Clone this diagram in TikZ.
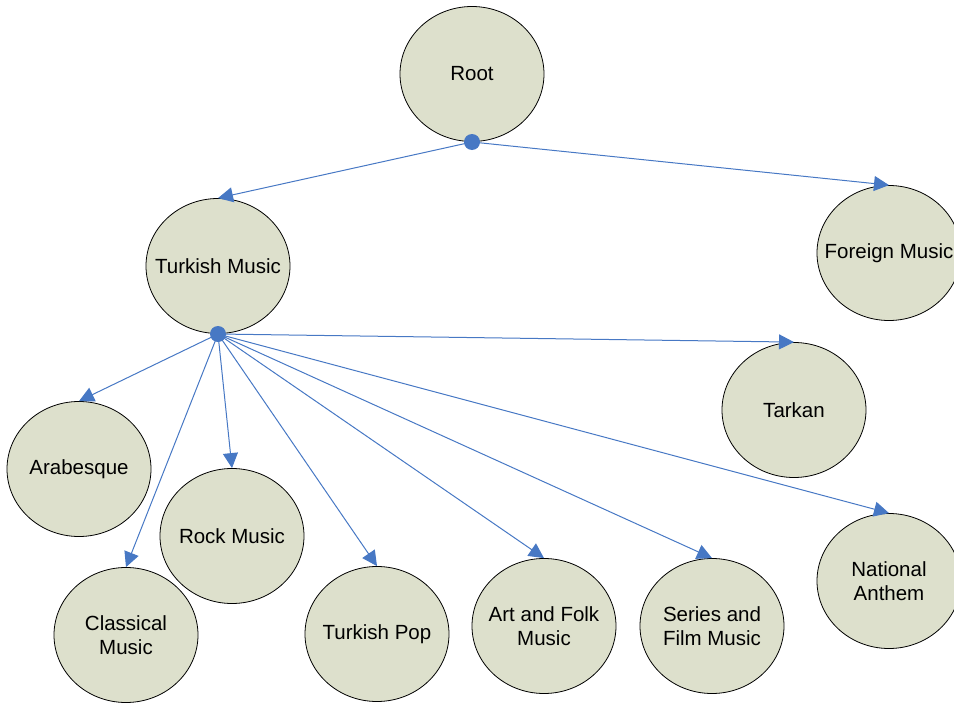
\documentclass[tikz,border=0pt]{standalone}
\usepackage{fontspec}
\setmainfont{Liberation Sans}
\usetikzlibrary{arrows.meta,shapes.geometric}
\definecolor{nodefill}{RGB}{221,224,204}
\definecolor{edgeblue}{RGB}{71,120,196}
\begin{document}
\begin{tikzpicture}[x=1pt,y=-1pt,
  topic/.style={ellipse, draw=black, line width=0.8pt, fill=nodefill,
    minimum width=144pt, minimum height=135pt, inner sep=-16pt, align=center,
    font=\fontsize{20.5}{24}\selectfont},
  link/.style={draw=edgeblue, line width=1pt, -{Triangle[length=15pt,width=15pt]}},
  hub/.style={circle, fill=edgeblue, inner sep=0pt, minimum size=16pt}]
\useasboundingbox (0,0) rectangle (954,704);

\node[topic] (root) at (472,74) {Root};
\node[topic] (tm) at (218,266) {Turkish Music};
\node[topic] (fm) at (889,253) {Foreign Music};
\node[topic] (tarkan) at (794,410) {Tarkan};
\node[topic] (arab) at (79,469) {Arabesque};
\node[topic] (rock) at (232,536) {Rock Music};
\node[topic] (class) at (126,635) {Classical\\Music};
\node[topic] (pop) at (377,634) {Turkish Pop};
\node[topic] (folk) at (544,626) {Art and Folk\\Music};
\node[topic] (film) at (712,626) {Series and\\Film Music};
\node[topic] (anthem) at (889,581) {National\\Anthem};

\coordinate (d1) at (472,142);
\coordinate (d2) at (218,334);

\draw[link] (d1) -- (tm.north);
\draw[link] (d1) -- (fm.north);
\draw[link] (d2) -- (tarkan.north);
\draw[link] (d2) -- (arab.north);
\draw[link] (d2) -- (rock.north);
\draw[link] (d2) -- (class.north);
\draw[link] (d2) -- (pop.north);
\draw[link] (d2) -- (folk.north);
\draw[link] (d2) -- (film.north);
\draw[link] (d2) -- (anthem.north);

\node[hub] (h1) at (d1) {};
\node[hub] (h2) at (d2) {};
\end{tikzpicture}
\end{document}
